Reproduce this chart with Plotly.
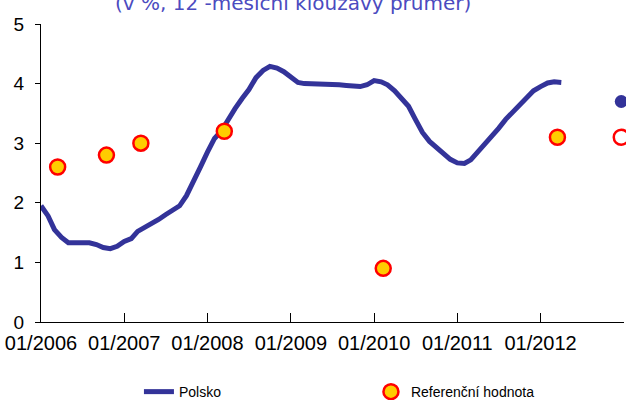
import plotly.graph_objects as go

months = ["2006-01","2006-02","2006-03","2006-04","2006-05","2006-06","2006-07","2006-08","2006-09","2006-10","2006-11","2006-12",
          "2007-01","2007-02","2007-03","2007-04","2007-05","2007-06","2007-07","2007-08","2007-09","2007-10","2007-11","2007-12",
          "2008-01","2008-02","2008-03","2008-04","2008-05","2008-06","2008-07","2008-08","2008-09","2008-10","2008-11","2008-12",
          "2009-01","2009-02","2009-03","2009-04","2009-05","2009-06","2009-07","2009-08","2009-09","2009-10","2009-11","2009-12",
          "2010-01","2010-02","2010-03","2010-04","2010-05","2010-06","2010-07","2010-08","2010-09","2010-10","2010-11","2010-12",
          "2011-01","2011-02","2011-03","2011-04","2011-05","2011-06","2011-07","2011-08","2011-09","2011-10","2011-11","2011-12",
          "2012-01","2012-02","2012-03","2012-04"]
polsko = [1.95,1.78,1.55,1.42,1.33,1.33,1.34,1.33,1.30,1.25,1.23,1.27,
          1.35,1.40,1.52,1.58,1.64,1.72,1.80,1.87,1.95,2.12,2.35,2.60,
          2.85,3.08,3.20,3.40,3.58,3.75,3.90,4.10,4.22,4.29,4.26,4.20,
          4.12,4.02,4.00,4.00,3.98,3.98,3.98,3.98,3.97,3.95,3.95,3.98,
          4.05,4.03,3.98,3.88,3.75,3.62,3.40,3.18,3.03,2.93,2.83,2.73,
          2.67,2.66,2.72,2.85,2.97,3.10,3.25,3.40,3.52,3.63,3.75,3.88,
          3.95,4.01,4.03,4.02]

ref_dates = ["2006-03-15","2006-10-15","2007-03-15","2008-03-15","2010-02-10","2012-03-15"]
ref_values = [2.6, 2.8, 3.0, 3.2, 0.9, 3.1]

forecast_dates = ["2012-12-20"]
forecast_polsko = [3.7]
forecast_ref = [3.1]

year_ticks = ["2006-01-01","2007-01-01","2008-01-01","2009-01-01","2010-01-01","2011-01-01","2012-01-01","2013-01-01"]
year_labels = ["01/2006","01/2007","01/2008","01/2009","01/2010","01/2011","01/2012",""]

title_text = "(v %, 12 -měsíční klouzavý průměr)"

BLUE = "#333399"
fig = go.Figure()
fig.add_trace(go.Scatter(x=months, y=polsko, mode="lines", name="Polsko",
                         line=dict(color=BLUE, width=5), cliponaxis=False))
fig.add_trace(go.Scatter(x=ref_dates, y=ref_values, mode="markers", name="Referenční hodnota",
                         marker=dict(symbol="circle", size=15, color="#FFCC00",
                                     line=dict(color="#FF0000", width=2.5)), cliponaxis=False))
fig.add_trace(go.Scatter(x=forecast_dates, y=forecast_polsko, mode="markers", showlegend=False,
                         marker=dict(symbol="circle", size=13, color=BLUE), cliponaxis=False))
fig.add_trace(go.Scatter(x=forecast_dates, y=forecast_ref, mode="markers", showlegend=False,
                         marker=dict(symbol="circle", size=15, color="white",
                                     line=dict(color="#FF0000", width=2.5)), cliponaxis=False))

fig.update_layout(
    width=626, height=400,
    margin=dict(l=41, r=2, t=24, b=78, autoexpand=False),
    paper_bgcolor="white", plot_bgcolor="white",
    font=dict(family="Liberation Sans, Arial, sans-serif", color="black"),
    showlegend=True,
    legend=dict(orientation="h", x=0.168, xanchor="left", y=-0.235, yanchor="middle",
                font=dict(size=14), entrywidth=187, bgcolor="rgba(0,0,0,0)"),
    annotations=[dict(text=title_text, xref="paper", yref="paper", x=0.432, y=1.023,
                      xanchor="center", yanchor="bottom", showarrow=False,
                      font=dict(family="DejaVu Sans", size=20, color="#4B4BBF"))],
)
fig.update_xaxes(type="date", range=["2006-01-01","2013-01-01"], tickvals=year_ticks, ticktext=year_labels,
                 showgrid=False, zeroline=False, showline=True, linecolor="black", linewidth=1,
                 ticks="inside", ticklen=9, tickcolor="black", tickfont=dict(size=20),
                 ticklabelstandoff=3, automargin=False)
fig.update_yaxes(range=[0, 5], dtick=1, showgrid=False, zeroline=False, showline=True,
                 linecolor="black", linewidth=1, ticks="outside", ticklen=5, tickcolor="black",
                 tickfont=dict(size=19), ticklabelstandoff=7, automargin=False)

fig.write_html("out.html", config={"displayModeBar": False},
               post_script="document.body.style.margin='0';")
